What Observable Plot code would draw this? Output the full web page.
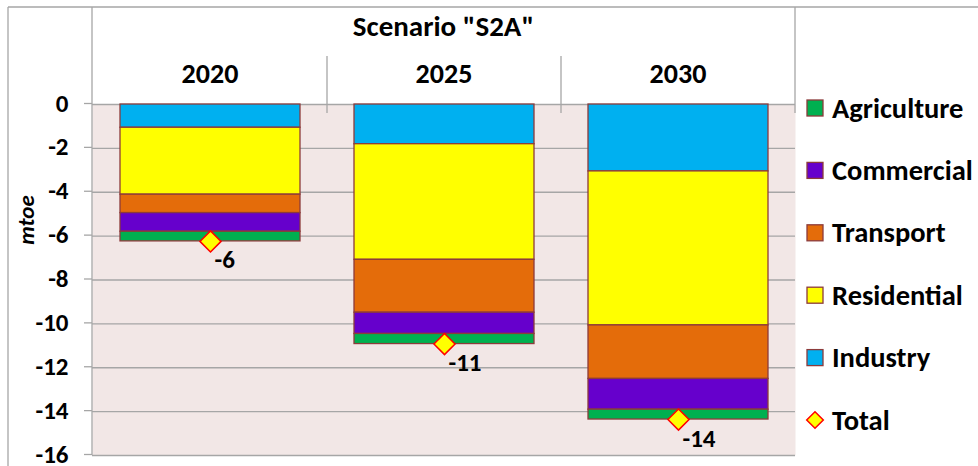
<!DOCTYPE html>
<html><head><meta charset="utf-8">
<script src="https://cdn.jsdelivr.net/npm/d3@7"></script>
<script src="https://cdn.jsdelivr.net/npm/@observablehq/plot@0.6"></script>
<style>body{margin:0;background:#fff} svg{display:block}</style>
</head><body><div id="chart"></div>
<script>
const title = 'Scenario "S2A"';
const years = ["2020", "2025", "2030"];
// stacking order from 0 downward
const sectors = ["Industry", "Residential", "Transport", "Commercial", "Agriculture"];
const sectorColors = ["#00b0f0", "#ffff00", "#e46c0a", "#6600cc", "#00b050"];
const legendOrder = ["Agriculture", "Commercial", "Transport", "Residential", "Industry"];
const industry = [-1.06, -1.81, -3.05];
const residential = [-3.05, -5.27, -7.02];
const transport = [-0.84, -2.41, -2.44];
const commercial = [-0.85, -0.97, -1.40];
const agriculture = [-0.44, -0.46, -0.45];
const totals = [-6.24, -10.92, -14.36];
const yTicks = [0, -2, -4, -6, -8, -10, -12, -14, -16];
const yLabel = "mtoe";
const totalLabel = "Total";

const series = {Industry: industry, Residential: residential, Transport: transport, Commercial: commercial, Agriculture: agriculture};
const rows = years.flatMap((year, i) => sectors.map(s => ({year, sector: s, value: series[s][i]})));
const totalRows = years.map((year, i) => ({year, total: totals[i]}));

const W = 978, H = 466;
const M = {left: 92, right: 183, top: 104, bottom: 11};
const FONT = "Carlito, Lato, sans-serif";
const GRID = "#a6a6a6";
const BAR_STROKE = "#8c3b3b";

const chart = Plot.plot({
  width: W, height: H,
  marginLeft: M.left, marginRight: M.right, marginTop: M.top, marginBottom: M.bottom,
  style: {fontFamily: FONT, fontWeight: "bold", fontSize: "25px", color: "#000", background: "#fff", overflow: "visible"},
  x: {domain: years, paddingInner: 0.232, paddingOuter: 0.116, axis: null},
  y: {domain: [-16, 0], axis: null},
  color: {domain: sectors, range: sectorColors},
  marks: [
    Plot.frame({fill: "#f2e7e6", stroke: null}),
    Plot.gridY(yTicks, {stroke: GRID, strokeOpacity: 1, strokeWidth: 1.3}),
    Plot.axisY(yTicks, {tickSize: 8, tickPadding: 16, stroke: GRID, strokeWidth: 1.3, fill: "#000", tickFormat: d => String(d), label: null, fontSize: 25, fontWeight: "bold", dy: -1}),
    Plot.barY(rows, {x: "year", y: "value", fill: "sector", order: sectors, stroke: BAR_STROKE, strokeWidth: 1.3}),
    Plot.dot(totalRows, {x: "year", y: "total", symbol: "diamond2", r: 9.5, fill: "#ffff00", stroke: "#ff0000", strokeWidth: 1.5}),
    Plot.text(totalRows, {x: "year", y: "total", text: d => String(Math.round(d.total)), textAnchor: "start", dx: 4, dy: 19, fontSize: 25, fontWeight: "bold", fill: "#000"})
  ]
});

// decorations: header table, frame lines, axis title, legend
const svg = d3.select(chart);
const xs = chart.scale("x");
const ys = chart.scale("y");
const step = xs.step, bw = xs.bandwidth;
const plotL = M.left, plotR = W - M.right, plotB = H - M.bottom;
const y0 = ys.apply(0);
const g = svg.append("g").attr("text-anchor", "start");
const line = (x1, y1, x2, y2, c = GRID, w = 1.3) =>
  g.append("line").attr("x1", x1).attr("y1", y1).attr("x2", x2).attr("y2", y2).attr("stroke", c).attr("stroke-width", w);
const label = (x, y, txt, size, anchor, extra = {}) => {
  const t = g.append("text").attr("x", x).attr("y", y).attr("text-anchor", anchor).attr("dominant-baseline", "central")
    .style("font-size", size + "px").style("font-weight", "bold").style("font-family", FONT).text(txt);
  for (const k in extra) t.attr(k, extra[k]);
  return t;
};

line(8, 7, W, 7, "#a6a6a6", 1.3);
line(8, 7, 8, H, "#a6a6a6", 1.3);
line(plotL, 7, plotL, plotB);
line(plotR, 7, plotR, y0 + 9);
years.slice(1).forEach(yr => {
  const xb = xs.apply(yr) - (step - bw) / 2;
  line(xb, 56, xb, y0 + 9);
});

label((plotL + plotR) / 2, 26, title, 29, "middle");
years.forEach(yr => label(xs.apply(yr) + bw / 2, 73, yr, 28, "middle"));
label(0, 0, yLabel, 23, "middle", {transform: "translate(26,220) rotate(-90)"}).style("font-style", "italic");

// legend
const legY0 = 108, legStep = 62.4, swX = 807;
legendOrder.forEach((s, i) => {
  const cy = legY0 + i * legStep;
  g.append("rect").attr("x", swX).attr("y", cy - 8).attr("width", 16).attr("height", 16)
    .attr("fill", sectorColors[sectors.indexOf(s)]).attr("stroke", BAR_STROKE).attr("stroke-width", 1.3);
  label(832, cy, s, 28.5, "start");
});
{
  const cy = legY0 + legendOrder.length * legStep, cx = swX + 8, r = 8.3;
  g.append("path").attr("d", `M${cx},${cy - r}L${cx + r},${cy}L${cx},${cy + r}L${cx - r},${cy}Z`)
    .attr("fill", "#ffff00").attr("stroke", "#ff0000").attr("stroke-width", 1.5);
  label(832, cy, totalLabel, 28.5, "start");
}

document.getElementById("chart").appendChild(chart);
</script>
</body></html>
